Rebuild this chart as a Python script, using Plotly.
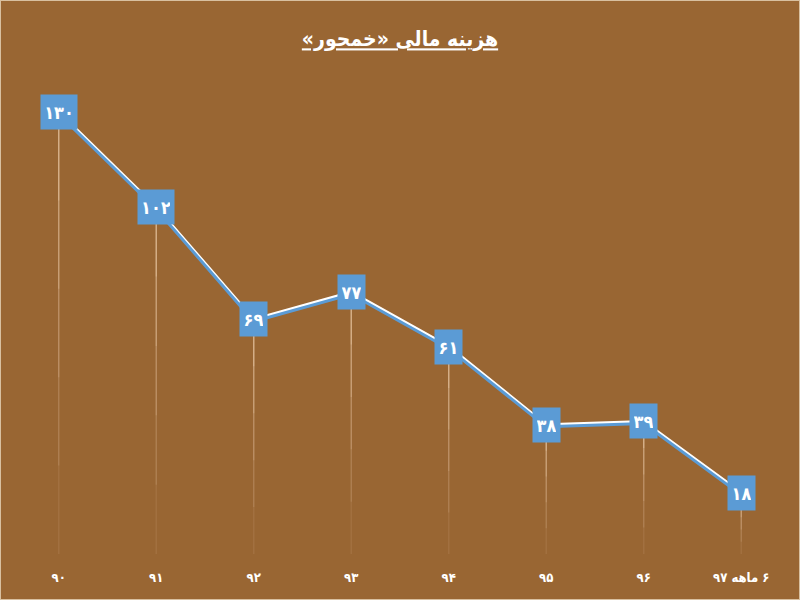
import plotly.graph_objects as go

RLM = "\u200F"
categories = ["۹۰", "۹۱", "۹۲", "۹۳", "۹۴", "۹۵", "۹۶", "۶ ماهه ۹۷"]
values = [130, 102, 69, 77, 61, 38, 39, 18]
value_labels = ["۱۳۰", "۱۰۲", "۶۹", "۷۷", "۶۱", "۳۸", "۳۹", "۱۸"]
title_text = "هزینه مالی «خمحور»"

BG = "#996633"
BLUE = "#5B9BD5"
FONT = "DejaVu Sans Condensed"

cats = [RLM + c + RLM for c in categories]

fig = go.Figure()

# drop lines, fading toward the bottom (layered segments for a gradient look)
fade_steps = [(0.0, 0.10), (0.2, 0.14), (0.4, 0.18), (0.6, 0.22), (0.8, 0.26)]
for c, v in zip(cats, values):
    for frac, alpha in fade_steps:
        fig.add_trace(go.Scatter(x=[c, c], y=[v * frac, v], mode="lines",
                                 line=dict(color=f"rgba(255,228,195,{alpha})", width=1.3),
                                 hoverinfo="skip", showlegend=False))

# shadow of the line (shifted slightly via overlay axis)
fig.add_trace(go.Scatter(x=cats, y=values, mode="lines", yaxis="y2",
                         line=dict(color=BLUE, width=3),
                         hoverinfo="skip", showlegend=False))
fig.add_trace(go.Scatter(x=cats, y=values, mode="lines",
                         line=dict(color="white", width=3),
                         showlegend=False))

for c, v, t in zip(cats, values, value_labels):
    fig.add_annotation(x=c, y=v, text="<b>" + t + "</b>", showarrow=False,
                       font=dict(family=FONT, size=18, color="white"),
                       bgcolor=BLUE, borderpad=4, width=9 * len(t) + 1, height=26)

yr = [0, 145.3]
fig.update_layout(
    width=800, height=600,
    paper_bgcolor=BG, plot_bgcolor=BG,
    margin=dict(l=10, r=10, t=60, b=46),
    title=dict(text="<b><u>" + RLM + title_text + RLM + "</u></b>", x=0.5,
               xanchor="center", y=0.935, yanchor="middle",
               font=dict(family=FONT, size=21, color="white")),
    xaxis=dict(type="category", showgrid=False, zeroline=False, showline=False,
               ticks="", tickfont=dict(family=FONT, size=13, color="white",
                                       weight="bold"),
               ticklabelstandoff=14, range=[-0.5, 7.5]),
    yaxis=dict(range=yr, visible=False, showgrid=False, zeroline=False),
    yaxis2=dict(range=[yr[0] + 0.6, yr[1] + 0.6], overlaying="y", visible=False,
                showgrid=False, zeroline=False),
    shapes=[dict(type="rect", xref="paper", yref="paper",
                 x0=-10 / 780, x1=1 + 10 / 780, y0=-46 / 494, y1=1 + 60 / 494,
                 line=dict(color="#d8c0a0", width=2),
                 fillcolor="rgba(0,0,0,0)", layer="above")],
)

fig.write_html("out.html", config={"displayModeBar": False},
               post_script="document.body.style.margin='0';")
